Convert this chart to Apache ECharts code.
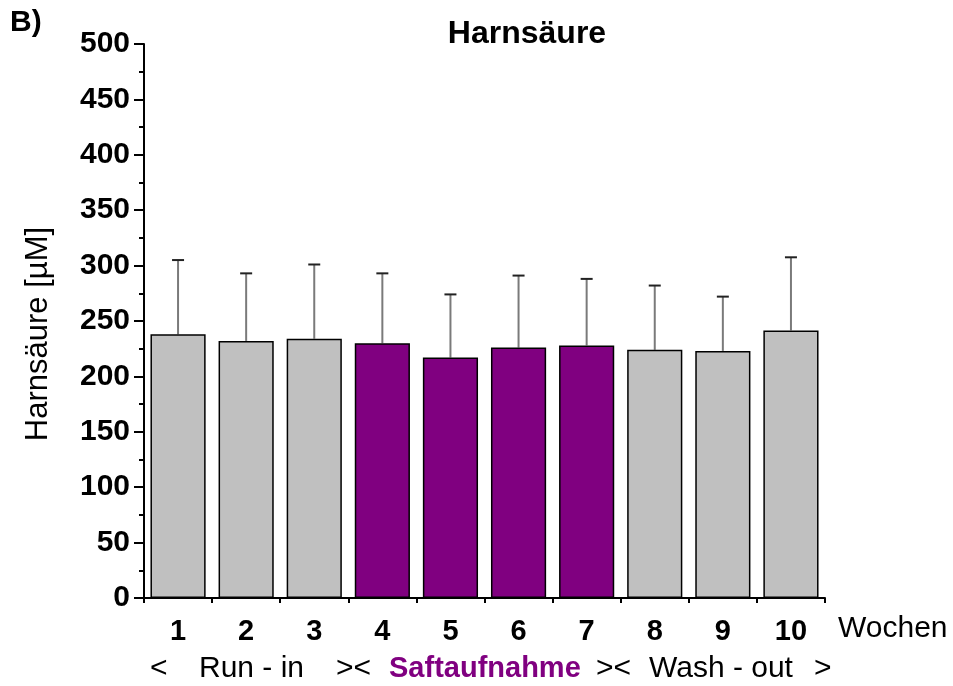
<!DOCTYPE html>
<html>
<head>
<meta charset="utf-8">
<script src="https://cdn.jsdelivr.net/npm/echarts@6/dist/echarts.min.js"></script>
<style>
  html, body { margin: 0; padding: 0; background: #fff; }
  #chart { width: 953px; height: 686px; }
</style>
</head>
<body>
<div id="chart"></div>
<script>
// Weekly uric acid means with standard deviations
const weeks = ['1', '2', '3', '4', '5', '6', '7', '8', '9', '10'];
const meanValues = [238, 232, 234, 230, 217, 226, 228, 224, 223, 241.5];
const sdValues = [67, 61, 67, 63, 57, 65, 60, 58, 49, 66];
const phase = ['run', 'run', 'run', 'juice', 'juice', 'juice', 'juice', 'wash', 'wash', 'wash'];
const yTicks = { min: 0, max: 500, step: 50 };

const GRAY = '#c0c0c0';
const PURPLE = '#800080';
const FONT = '"Liberation Sans", Arial, Helvetica, sans-serif';

const chart = echarts.init(document.getElementById('chart'), null, { renderer: 'canvas' });

const barData = meanValues.map((v, i) => ({
  value: v,
  itemStyle: { color: phase[i] === 'juice' ? PURPLE : GRAY }
}));
const errData = meanValues.map((v, i) => [i, v, v + sdValues[i]]);

const option = {
  animation: false,
  backgroundColor: '#fff',
  title: {
    text: 'Harnsäure',
    left: 522,
    top: 13,
    textAlign: 'center',
    textStyle: { fontFamily: FONT, fontWeight: 'bold', fontSize: 32, color: '#000' }
  },
  grid: { left: 144, right: 128, top: 44, bottom: 88, containLabel: false },
  xAxis: [
    {
      type: 'category',
      data: weeks,
      axisLine: { lineStyle: { color: '#000', width: 2 } },
      axisTick: { alignWithLabel: true, length: 10, lineStyle: { color: '#000', width: 2 } },
      axisLabel: { color: '#000', fontFamily: FONT, fontWeight: 'bold', fontSize: 29, margin: 19 }
    },
    {
      type: 'category',
      data: weeks,
      position: 'bottom',
      axisLine: { show: false },
      axisTick: { show: true, length: 5, lineStyle: { color: '#000', width: 2 } },
      axisLabel: { show: false }
    }
  ],
  yAxis: {
    type: 'value',
    min: yTicks.min,
    max: yTicks.max,
    interval: yTicks.step,
    axisLine: { show: true, lineStyle: { color: '#000', width: 2 } },
    axisTick: { show: true, length: 10, lineStyle: { color: '#000', width: 2 } },
    minorTick: { show: true, splitNumber: 2, length: 5, lineStyle: { color: '#000', width: 2 } },
    splitLine: { show: false },
    axisLabel: { color: '#000', fontFamily: FONT, fontWeight: 'bold', fontSize: 30, margin: 14 }
  },
  series: [
    {
      type: 'bar',
      data: barData,
      barCategoryGap: '19%',
      itemStyle: { borderColor: '#000', borderWidth: 1.5 },
      z: 2
    },
    {
      type: 'custom',
      data: errData,
      z: 1,
      renderItem: function (params, api) {
        const i = api.value(0);
        const top = api.coord([i, api.value(2)]);
        const base = api.coord([i, api.value(1)]);
        const half = 6;
        return {
          type: 'group',
          children: [
            {
              type: 'line',
              shape: { x1: top[0], y1: base[1], x2: top[0], y2: top[1] },
              style: { stroke: '#7a7a7a', lineWidth: 2 }
            },
            {
              type: 'line',
              shape: { x1: top[0] - half, y1: top[1], x2: top[0] + half, y2: top[1] },
              style: { stroke: '#222', lineWidth: 2 }
            }
          ]
        };
      }
    }
  ],
  graphic: [
    { type: 'text', left: 10, top: 8, style: { text: 'B)', font: 'bold 30px ' + FONT, fill: '#000' } },
    {
      type: 'text', x: 38, y: 334, rotation: Math.PI / 2,
      style: { text: 'Harnsäure [µM]', font: '31px ' + FONT, fill: '#000', align: 'center', verticalAlign: 'middle' }
    },
    { type: 'text', left: 838, top: 614, style: { text: 'Wochen', font: '30px ' + FONT, fill: '#000' } },
    { type: 'text', left: 150, top: 654, style: { text: '<', font: '30px ' + FONT, fill: '#000' } },
    { type: 'text', left: 199, top: 654, style: { text: 'Run - in', font: '30px ' + FONT, fill: '#000' } },
    { type: 'text', left: 336, top: 654, style: { text: '><', font: '30px ' + FONT, fill: '#000' } },
    { type: 'text', left: 389, top: 654, style: { text: 'Saftaufnahme', font: 'bold 29px ' + FONT, fill: PURPLE } },
    { type: 'text', left: 596, top: 654, style: { text: '><', font: '30px ' + FONT, fill: '#000' } },
    { type: 'text', left: 649, top: 654, style: { text: 'Wash - out', font: '30px ' + FONT, fill: '#000' } },
    { type: 'text', left: 814, top: 654, style: { text: '>', font: '30px ' + FONT, fill: '#000' } }
  ]
};

chart.setOption(option);
</script>
</body>
</html>
